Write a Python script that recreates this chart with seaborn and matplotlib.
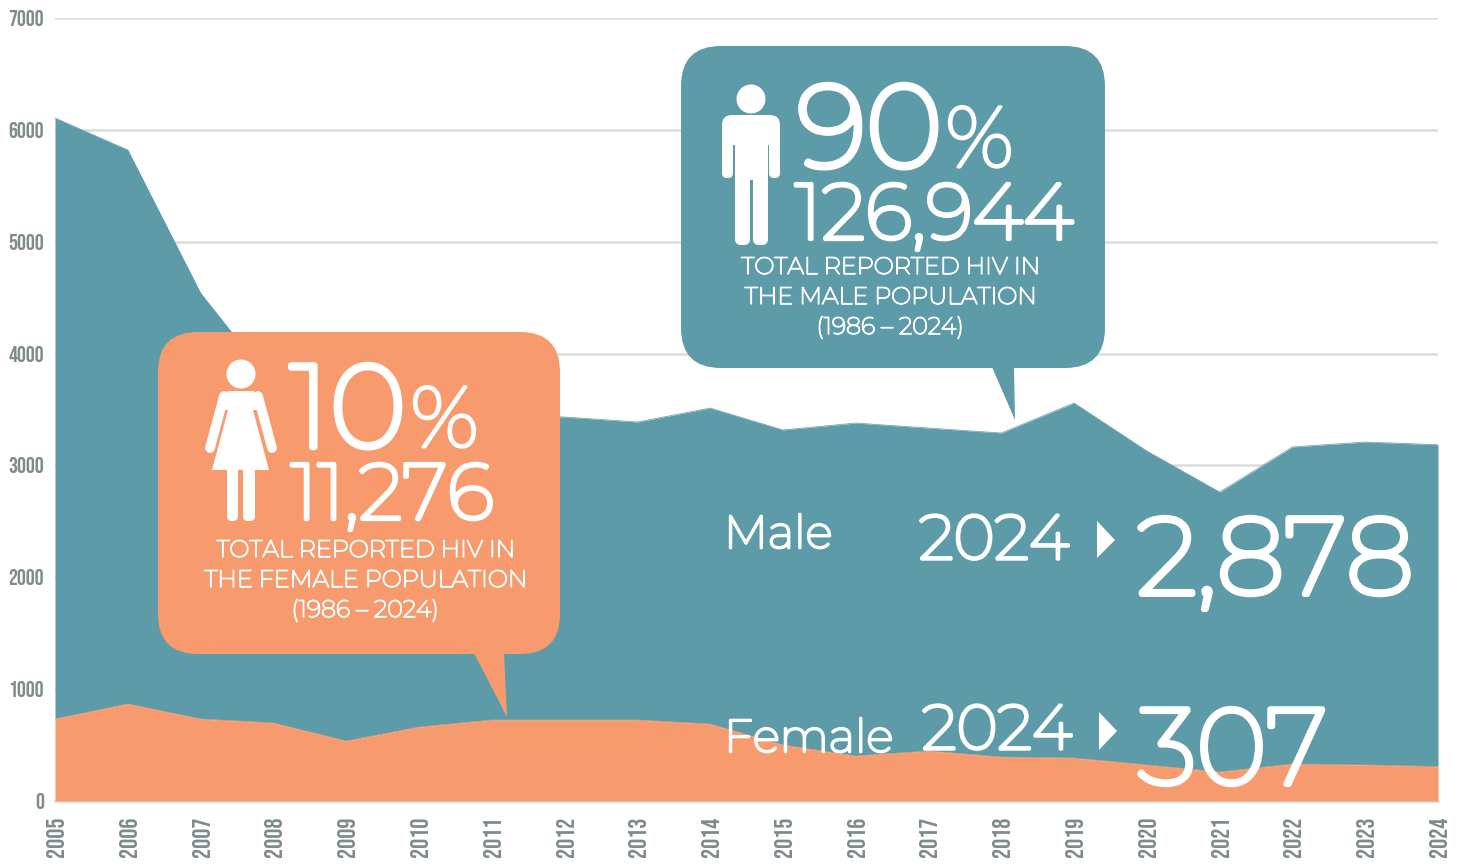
import matplotlib
matplotlib.use("Agg")
import matplotlib.pyplot as plt
import matplotlib.patheffects as pe
from matplotlib.patches import Circle, FancyBboxPatch, Polygon, Rectangle
import pandas as pd
import seaborn as sns

years = list(range(2005, 2025))
female = [733, 867, 733, 697, 536, 661, 724, 724, 724, 688, 500, 402, 447, 393, 384, 322, 259, 331, 322, 307]
total = [6106, 5820, 4541, 3720, 3550, 3500, 3450, 3433, 3388, 3513, 3317, 3379, 3334, 3290, 3558, 3129, 2762, 3165, 3209, 3185]
y_ticks = [0, 1000, 2000, 3000, 4000, 5000, 6000, 7000]

TEAL = "#5d9ba8"
ORANGE = "#f79b6e"
GRID = "#dcdcdc"
TICK = "#7f8a8a"
W, H = 1460, 866
TICK_FONT = ["Bebas Neue", "Oswald", "Roboto"]
TEXT_FONT = ["Montserrat", "Inter"]

sns.set_theme(style="white")
plt.rcParams["font.family"] = ["Inter", "DejaVu Sans"]

df = pd.DataFrame({"year": years, "female": female, "total": total})

fig = plt.figure(figsize=(W / 100, H / 100), dpi=100)
ax = fig.add_axes([55 / W, (H - 801) / H, (1438 - 55) / W, (801 - 18) / H])

sns.lineplot(data=df, x="year", y="total", color=TEAL, linewidth=0.5, ax=ax, zorder=3)
ax.fill_between(df["year"], df["female"], df["total"], color=TEAL, linewidth=0, zorder=3)
sns.lineplot(data=df, x="year", y="female", color=ORANGE, linewidth=0.5, ax=ax, zorder=4)
ax.fill_between(df["year"], 0, df["female"], color=ORANGE, linewidth=0, zorder=4)

ax.set_xlim(2005, 2024)
ax.set_ylim(0, 7000)
ax.set_xlabel("")
ax.set_ylabel("")
ax.set_xticks(years)
ax.set_yticks(y_ticks)
ax.grid(axis="y", color=GRID, linewidth=1.8, zorder=1)
ax.set_axisbelow(True)
sns.despine(ax=ax, left=True)
ax.spines["bottom"].set_color(GRID)
ax.spines["bottom"].set_linewidth(1.8)
ax.tick_params(axis="x", length=5, width=1.2, color=GRID, pad=6, rotation=90)
ax.tick_params(axis="y", length=0, pad=8)
for t in ax.get_xticklabels():
    t.set_family(TICK_FONT)
    t.set_fontsize(18)
    t.set_color(TICK)
for t in ax.get_yticklabels():
    t.set_family(TICK_FONT)
    t.set_fontsize(16)
    t.set_color(TICK)

# overlay in pixel coordinates for the callouts
ov = fig.add_axes([0, 0, 1, 1])
ov.set_xlim(0, W)
ov.set_ylim(H, 0)
ov.axis("off")
ov.patch.set_alpha(0)


def bubble(x0, y0, x1, y1, tail, color):
    ov.add_patch(FancyBboxPatch((x0, y0), x1 - x0, y1 - y0, boxstyle="round,pad=0,rounding_size=40", fc=color, ec="none"))
    ov.add_patch(Polygon(tail, fc=color, ec="none"))


def bar(x0, y0, x1, y1, r=5):
    ov.add_patch(FancyBboxPatch((x0, y0), x1 - x0, y1 - y0, boxstyle=f"round,pad=0,rounding_size={r}", fc="white", ec="none"))


def label(x, y, s, size, ha="left", stroke=0.055):
    # the Montserrat file renders thin, so thicken it with a white stroke
    t = ov.text(x, y, s, color="white", fontsize=size, ha=ha, va="baseline", family=TEXT_FONT)
    t.set_path_effects([pe.withStroke(linewidth=size * stroke, foreground="white")])


bubble(681, 46, 1105, 368, [(992, 367), (1014, 367), (1015, 420)], TEAL)
bubble(158, 332, 560, 654, [(474, 653), (504, 653), (507, 717)], ORANGE)

# male icon
ov.add_patch(Circle((751, 99), 14.5, fc="white", ec="none"))
bar(722, 115, 780, 145, 10)
bar(722, 125, 733, 178)
bar(769, 125, 780, 178)
ov.add_patch(Rectangle((735, 125), 33, 55, fc="white", ec="none"))
bar(735, 170, 750, 245, 6)
bar(753, 170, 768, 245, 6)

# female icon
ov.add_patch(Circle((241, 374), 14.5, fc="white", ec="none"))
ov.add_patch(Polygon([(228, 391), (254, 391), (262, 410), (253, 410), (269, 470), (212, 470), (228, 410), (220, 410)], fc="white", ec="none"))
ov.plot([224, 210], [396, 448], color="white", linewidth=7, solid_capstyle="round")
ov.plot([258, 272], [396, 448], color="white", linewidth=7, solid_capstyle="round")
bar(227, 462, 238, 521, 5)
bar(243, 462, 255, 521, 5)

label(797, 167, "90", 84)
label(945, 167, "%", 62, stroke=0.035)
label(795, 239, "126,944", 56.5)
label(890, 274, "TOTAL REPORTED HIV IN", 17.2, "center")
label(890, 304, "THE MALE POPULATION", 17.2, "center")
label(890, 334, "(1986 – 2024)", 17.2, "center")

label(290, 447, "10", 84)
label(410, 447, "%", 62, stroke=0.035)
label(291, 519, "11,276", 56.5)
label(365, 557, "TOTAL REPORTED HIV IN", 17.2, "center")
label(365, 587, "THE FEMALE POPULATION", 17.2, "center")
label(365, 617, "(1986 – 2024)", 17.2, "center")

label(724, 548, "Male", 33)
label(919, 559, "2024", 45)
ov.add_patch(Polygon([(1097, 521), (1115, 540), (1097, 558)], fc="white", ec="none"))
label(1137, 594, "2,878", 78)

label(724, 752, "Female", 33)
label(922, 749, "2024", 45)
ov.add_patch(Polygon([(1099, 712), (1117, 731), (1099, 750)], fc="white", ec="none"))
label(1138, 784, "307", 77)

fig.savefig("out.png", dpi=100, facecolor="white")
